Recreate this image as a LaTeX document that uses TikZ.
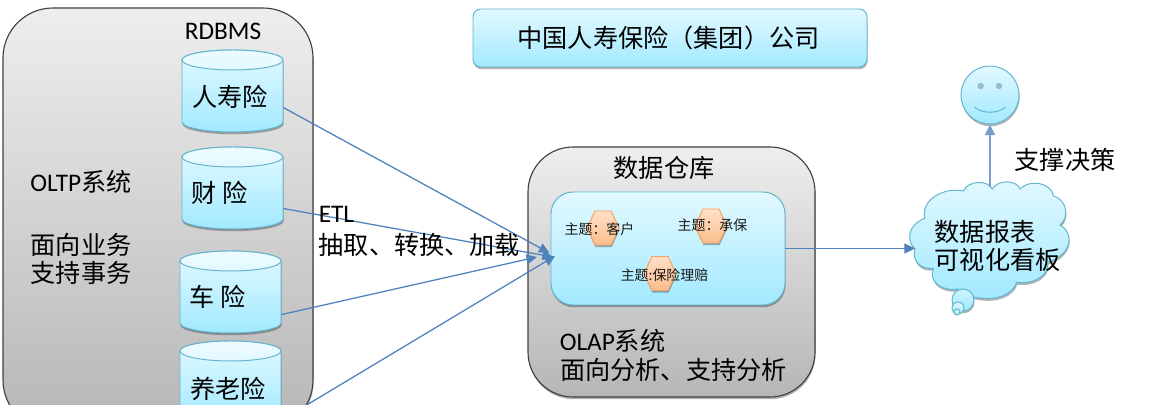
\documentclass[tikz,border=0pt]{standalone}
\usepackage{fontspec}
\setmainfont{Noto Sans CJK SC}
\newfontfamily\latfont{Carlito}
\usetikzlibrary{shadows,arrows.meta}
\definecolor{flow}{HTML}{4F81BD}
\definecolor{flowlight}{HTML}{7A9BCB}
\definecolor{blueedge}{HTML}{62B5CC}
\definecolor{bluetop}{HTML}{E2F9FF}
\definecolor{bluebot}{HTML}{A2E9FF}
\definecolor{graytop}{HTML}{EEEEEE}
\definecolor{graybot}{HTML}{B6B6B6}
\definecolor{orangeedge}{HTML}{F8A35E}
\definecolor{orangetop}{HTML}{FFE0C8}
\definecolor{orangebot}{HTML}{FBBE8C}
\newcommand{\lat}[1]{{\latfont\fontsize{18}{22}\selectfont #1}}
\newcommand{\bigtxt}{\fontsize{17.9}{20}\selectfont}
\newcommand{\smalltxt}{\fontsize{9.9}{12}\selectfont}
\tikzset{
  softshadow/.style={drop shadow={shadow xshift=0.4pt,shadow yshift=-1.6pt,opacity=.3,fill=black}},
  bluefill/.style={draw=blueedge,line width=0.7pt,top color=bluetop,bottom color=bluebot,softshadow},
  grayfill/.style={draw=black!75,line width=0.8pt,top color=graytop,bottom color=graybot,softshadow},
  txt/.style={anchor=west,inner sep=0pt,font=\bigtxt,text=black,align=left},
  small/.style={inner sep=0pt,font=\smalltxt,text=black!90},
  flowline/.style={draw=flow,line width=0.9pt,-{Triangle[length=7.5pt,width=7pt]}},
  slot/.style={inner sep=0pt,minimum width=101*0.025cm,minimum height=82*0.025cm},
  pics/dbcyl/.style={code={
    \path[bluefill] (-50.5,10) -- (-50.5,72) .. controls (-50.5,77.5) and (-27.9,82) .. (0,82)
       .. controls (27.9,82) and (50.5,77.5) .. (50.5,72) -- (50.5,10)
       .. controls (50.5,4.5) and (27.9,0) .. (0,0) .. controls (-27.9,0) and (-50.5,4.5) .. (-50.5,10) -- cycle;
    \path[draw=blueedge,line width=0.7pt,top color=bluetop!60!white,bottom color=bluetop] (0,10) ellipse [x radius=50.5,y radius=10];
  }},
  pics/hexa/.style={code={
    \path[draw=orangeedge,line width=0.7pt,top color=orangetop,bottom color=orangebot,softshadow]
      (-16,0) -- (-8,-17) -- (8,-17) -- (16,0) -- (8,17) -- (-8,17) -- cycle;
  }}
}
\begin{document}
\begin{tikzpicture}[x=0.025cm,y=-0.025cm]
\useasboundingbox (0,0) rectangle (1160,405);
\clip (0,0) rectangle (1160,405);
% containers
\node[grayfill,rounded corners=50*0.025cm,minimum width=310*0.025cm,minimum height=422*0.025cm] (oltp) at (158,219) {};
\node[grayfill,rounded corners=45*0.025cm,minimum width=287*0.025cm,minimum height=250*0.025cm] (dw) at (671.5,272) {};
\node[bluefill,rounded corners=8*0.025cm,minimum width=394*0.025cm,minimum height=58*0.025cm,font=\bigtxt] (title) at (670,38) {\hspace{-3\pgflinewidth}中国人寿保险（集团）公司};
\node[bluefill,rounded corners=22*0.025cm,minimum width=234*0.025cm,minimum height=113*0.025cm] (olapcore) at (668,248.5) {};
% databases
\pic at (232.5,50) {dbcyl};
\pic at (232.5,147) {dbcyl};
\pic at (230.5,251) {dbcyl};
\pic at (230.5,341) {dbcyl};
\node[slot] (c1) at (232.5,91) {};
\node[slot] (c2) at (232.5,188) {};
\node[slot] (c3) at (230.5,292) {};
\node[slot] (c4) at (230.5,382) {};
\node[txt] (t1) at (192,97) {人寿险};
\node[txt] (t2) at (191,193) {财\hspace{0.25em}险};
\node[txt] (t3) at (189,297) {车\hspace{0.25em}险};
\node[txt] (t4) at (190,389) {养老险};
\node[txt] (rdbms) at (184.5,31) {\lat{RDBMS}};
\node[txt] (oltpname) at (30,182) {\lat{OLTP}系统};
\node[txt] (oltpdesc) at (30.5,259) {面向业务\\支持事务};
% warehouse text
\node[txt] (dwname) at (613.5,168) {数据仓库};
\node[txt] (olapname) at (559.5,341) {\lat{OLAP}系统};
\node[txt] (olapdesc) at (560,370) {面向分析、支持分析};
% subject hexagons
\pic at (603,228) {hexa};
\pic at (711,226) {hexa};
\pic at (660,273.5) {hexa};
\node[small] (s1) at (599.5,229) {主题：客户};
\node[small] (s2) at (712.5,225) {主题：承保};
\node[small] (s3) at (664.5,275) {主题:保险理赔};
% cloud
\begin{scope}[shift={(905,175)},x=0.025cm/3,y=-0.025cm/3]
\path[bluefill] (30,222) .. controls (5,200) and (5,150) .. (60,130)
  .. controls (45,80) and (110,35) .. (175,48)
  .. controls (190,15) and (250,15) .. (262,42)
  .. controls (280,12) and (335,15) .. (345,42)
  .. controls (375,10) and (440,25) .. (445,62)
  .. controls (485,75) and (495,125) .. (465,150)
  .. controls (510,175) and (500,240) .. (428,262)
  .. controls (435,300) and (385,330) .. (335,322)
  .. controls (325,360) and (270,375) .. (235,370)
  .. controls (200,367) and (172,360) .. (160,342)
  .. controls (110,350) and (70,320) .. (85,280)
  .. controls (45,285) and (20,255) .. (30,222) -- cycle;
\end{scope}
\path[draw=blueedge,line width=0.7pt,top color=bluetop!70!bluebot,bottom color=bluebot,softshadow] (963,300) circle (11);
\path[draw=blueedge,line width=0.7pt,top color=bluetop,bottom color=bluebot] (958,308) circle (6);
\path[draw=blueedge,line width=0.7pt,top color=bluetop,bottom color=bluebot] (957,312) circle (3);
\coordinate (cloudW) at (915,248.5);
\coordinate (cloudN) at (990,187);
\node[txt] (report) at (934.5,246) {数据报表\\可视化看板};
\node[txt] (decide) at (1014.5,160) {支撑决策};
% smiley
\node[circle,bluefill,minimum size=58*0.025cm,inner sep=0pt] (smile) at (990,95) {};
\fill[blueedge!60!gray!70] (980.7,86) circle (3.2);
\fill[blueedge!60!gray!70] (999,86) circle (3.2);
\draw[blueedge,line width=0.7pt] (974.5,107) .. controls (982,114) and (998,114) .. (1005.5,107);
% connectors
\coordinate (h1) at (549.5,253);
\coordinate (h2) at (553,257);
\coordinate (h3) at (537,257);
\coordinate (h4) at (555,256);
\draw[flowline] (c1.-18.6) -- (h1);
\draw[flowline] (c2.-22.6) -- (h2);
\draw[flowline] (c3.-24.5) -- (h3);
\draw[flowline] (c4.-37) -- (h4);
\draw[flowline] (olapcore.east) -- (cloudW);
\draw[flowlight,line width=1.3pt,-{Triangle[length=7.5pt,width=7pt]}] (cloudN) -- (smile.south);
% ETL label
\node[txt] (etl) at (318.5,214) {\lat{ETL}};
\node[txt] (etl2) at (318.5,245) {抽取、转换、加载};
\end{tikzpicture}
\end{document}
